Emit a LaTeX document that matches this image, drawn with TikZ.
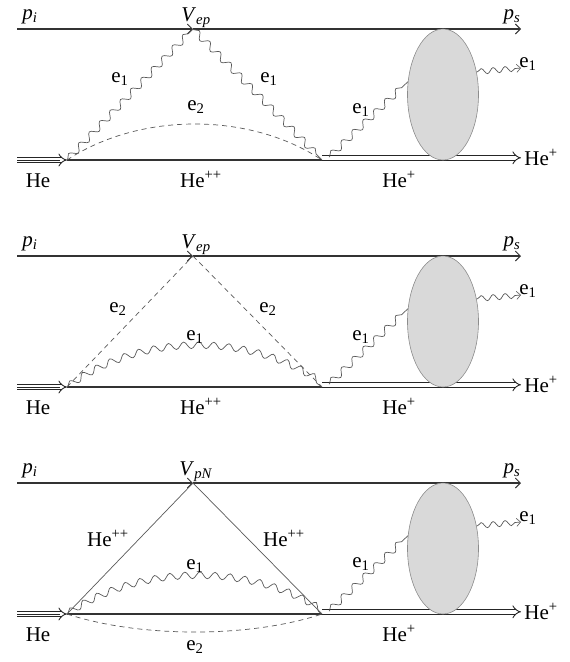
\documentclass[tikz,border=0pt]{standalone}
\usepackage{fontspec}
\setmainfont{Liberation Serif}
\usetikzlibrary{arrows.meta,decorations.pathmorphing,shapes.geometric}
\tikzset{
  mainline/.style={line width=1.1pt, draw=black!80},
  thinline/.style={line width=0.7pt, draw=black!65},
  wavy/.style={thinline, decorate, decoration={snake, amplitude=3.4pt, segment length=15pt, pre length=1pt, post length=2pt}},
  wavyout/.style={thinline, decorate, decoration={snake, amplitude=2.8pt, segment length=12pt, pre length=1pt, post length=4pt}},
  dashline/.style={thinline, dash pattern=on 5pt off 4pt},
  barb/.style={-{Straight Barb[length=5pt,width=10pt,line width=0.9pt]}},
  dblline/.style={line width=0.9pt, draw=black!85, double, double distance=3.6pt, -{Implies[length=7pt]}},
  blob/.style={ellipse, draw=black!45, fill=black!15, line width=0.6pt, minimum width=71pt, minimum height=131pt, inner sep=0pt},
  lbl/.style={anchor=base, inner sep=0pt, text=black},
}
\newcommand\commonpart[1]{%
  \coordinate (pi) at (17,29);
  \coordinate (V) at (193,29);
  \coordinate (ps) at (521,29);
  \coordinate (Hs) at (17,160);
  \coordinate (A) at (67,160);
  \coordinate (B) at (322,160);
  \coordinate (Bd) at (322,157.8);
  \coordinate (Hp) at (521,157.8);
  \coordinate (B1) at (329,157);
  \coordinate (out) at (521,68);
  \draw[mainline, barb] (pi) -- (V);
  \draw[mainline, barb] (V) -- (ps);
  \draw[dblline] (Hs) -- (A);
  \draw[line width=0.9pt, draw=black!85] (Hs) -- ([xshift=-7pt]A);
  \draw[mainline] (A) -- (B);
  \draw[dblline] (Bd) -- (Hp);
  \node[blob] (E) at (443,94.5) {};
  \draw[wavy] (B1) -- (E.160);
  \draw[wavyout, -{Straight Barb[length=4pt,width=8pt,line width=0.6pt]}] (E.34) -- (out);
  \node[lbl] (lpi) at (30,19) {\textit{p}\textsubscript{\textit{i}}};
  \node[lbl] (lV) at (196,21) {#1};
  \node[lbl] (lps) at (512,19) {\textit{p}\textsubscript{\textit{s}}};
  \node[lbl] (lHe) at (38,187) {He};
  \node[lbl] (lHep) at (399,187) {He\textsuperscript{+}};
  \node[lbl] (lHer) at (541,165) {He\textsuperscript{+}};
  \node[lbl] (lein) at (361,113) {e\textsubscript{1}};
  \node[lbl] (leout) at (528,67) {e\textsubscript{1}};
}
\begin{document}
\begin{tikzpicture}[x=1pt, y=-1pt, font=\fontsize{21}{25}\selectfont]
\useasboundingbox (0,0) rectangle (570,662);
% ---- diagram 1
\begin{scope}[name prefix=a-]
  \commonpart{\textit{V}\textsubscript{\textit{ep}}}
  \draw[wavy] (A) -- (V);
  \draw[wavy] (V) -- (B);
  \draw[dashline] (A) .. controls (140,112) and (250,112) .. (B);
  \node[lbl] (le1l) at (120,82) {e\textsubscript{1}};
  \node[lbl] (le1r) at (269,82) {e\textsubscript{1}};
  \node[lbl] (le2) at (196,110) {e\textsubscript{2}};
  \node[lbl] (lHepp) at (201,187) {He\textsuperscript{++}};
\end{scope}
% ---- diagram 2
\begin{scope}[shift={(0,227)}, name prefix=b-]
  \commonpart{\textit{V}\textsubscript{\textit{ep}}}
  \draw[dashline] (A) -- (V);
  \draw[dashline] (V) -- (B);
  \draw[wavy] (A) .. controls (140,107) and (250,107) .. (B);
  \node[lbl] (le2l) at (118,85) {e\textsubscript{2}};
  \node[lbl] (le2r) at (268,85) {e\textsubscript{2}};
  \node[lbl] (le1) at (195,113) {e\textsubscript{1}};
  \node[lbl] (lHepp) at (201,187) {He\textsuperscript{++}};
\end{scope}
% ---- diagram 3
\begin{scope}[shift={(0,454)}, name prefix=c-]
  \commonpart{\textit{V}\textsubscript{\textit{pN}}}
  \draw[thinline] (A) -- (V);
  \draw[thinline] (V) -- (B);
  \draw[wavy] (A) .. controls (140,111) and (250,111) .. (B);
  \draw[dashline] (A) .. controls (140,184) and (250,184) .. (B);
  \node[lbl] (lHl) at (108,92) {He\textsuperscript{++}};
  \node[lbl] (lHr) at (284,92) {He\textsuperscript{++}};
  \node[lbl] (le1) at (195,115) {e\textsubscript{1}};
  \node[lbl] (le2) at (195,196) {e\textsubscript{2}};
\end{scope}
\end{tikzpicture}
\end{document}
